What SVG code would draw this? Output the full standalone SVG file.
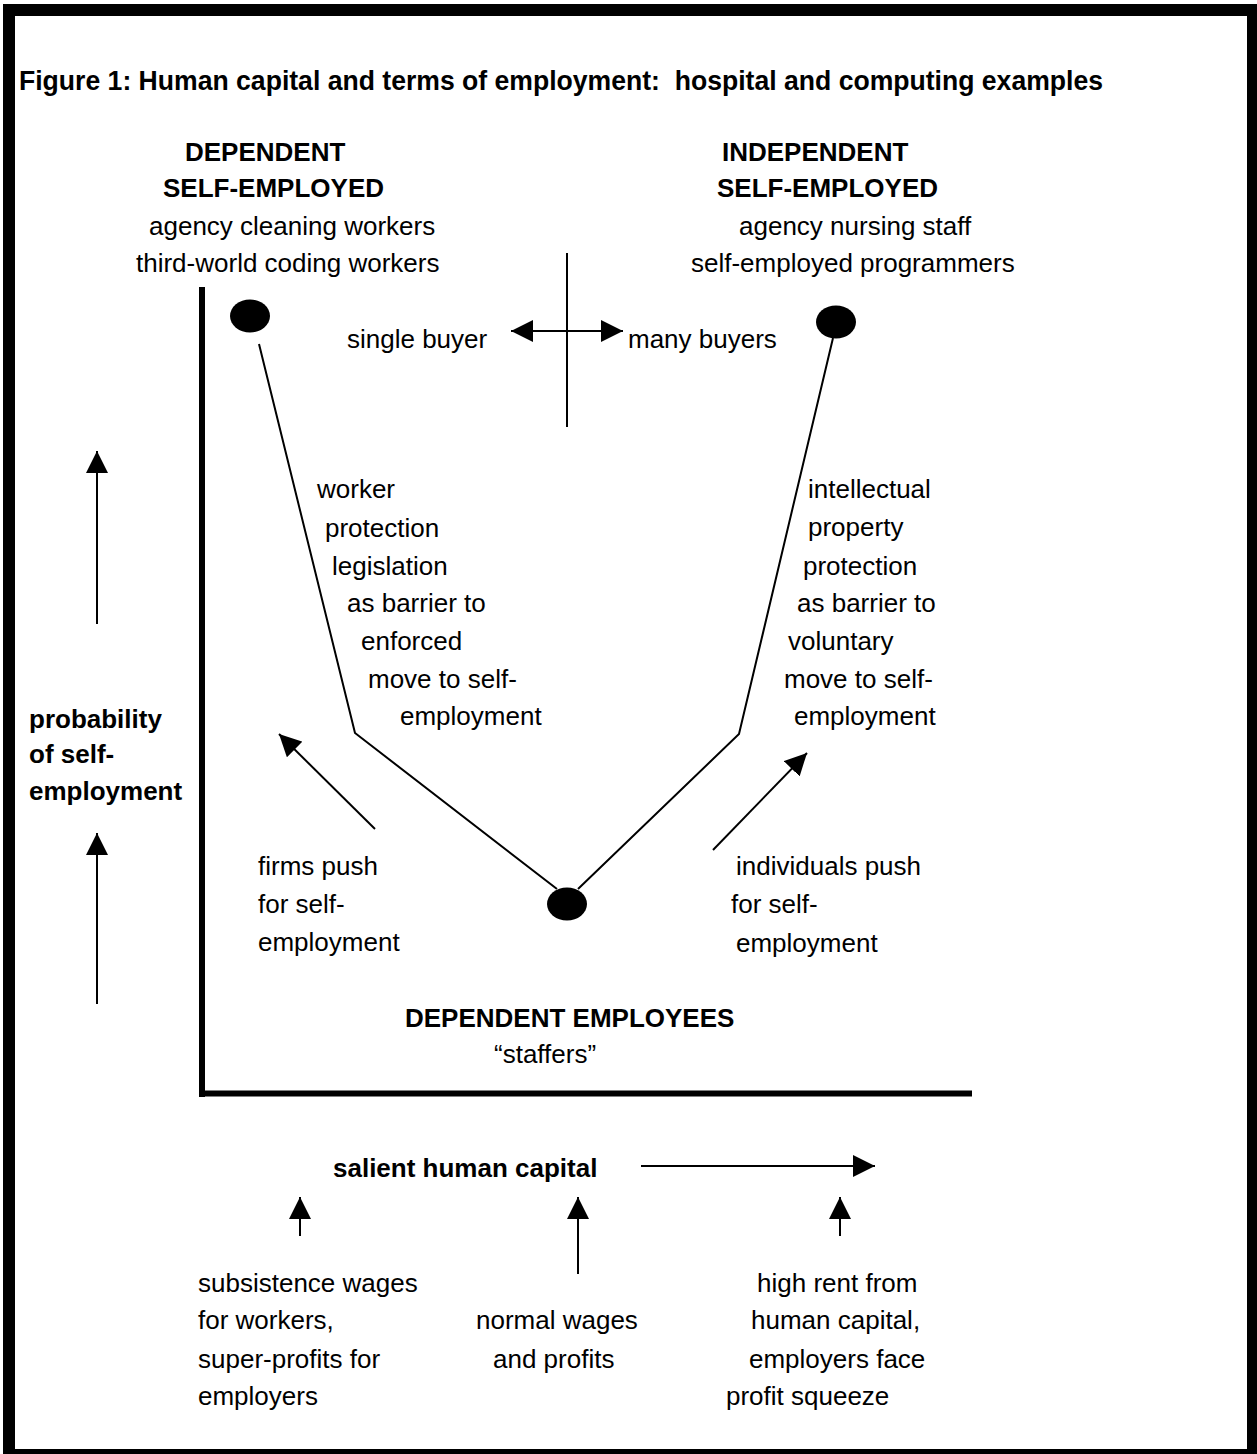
<svg xmlns="http://www.w3.org/2000/svg" width="1257" height="1454" viewBox="0 0 1257 1454">
<defs>
<style>
text{font-family:"Liberation Sans",Arial,sans-serif;font-size:26px;fill:#000}
.b{font-weight:bold}
.thin{stroke:#000;stroke-width:2;fill:none}
.axis{stroke:#000;stroke-width:6;fill:none}
.dot{fill:#000}
</style>
<marker id="ah" markerUnits="userSpaceOnUse" markerWidth="22" markerHeight="22" viewBox="0 0 20 20" refX="20" refY="10" orient="auto-start-reverse">
<path d="M0,0 L20,10 L0,20 Z" fill="#000"/>
</marker>
</defs>
<rect x="0" y="0" width="1257" height="1454" fill="#fff"/>
<rect id="frame" x="9" y="10" width="1244" height="1445" fill="none" stroke="#000" stroke-width="12"/>
<g id="title"><text class="b" x="19" y="90" xml:space="preserve" style="font-size:27px" textLength="1084" lengthAdjust="spacingAndGlyphs">Figure 1: Human capital and terms of employment:  hospital and computing examples</text></g>

<g id="axes">
<path class="axis" d="M202,287 V1097"/>
<path class="axis" d="M199,1093.5 H972"/>
</g>

<g id="node-dependent-self-employed">
<ellipse class="dot" cx="250" cy="316" rx="20" ry="16.5"/>
<text class="b" x="185" y="161">DEPENDENT</text>
<text class="b" x="163" y="197">SELF-EMPLOYED</text>
<text x="149" y="235">agency cleaning workers</text>
<text x="136" y="272">third-world coding workers</text>
</g>

<g id="node-independent-self-employed">
<ellipse class="dot" cx="836" cy="322" rx="20" ry="16.5"/>
<text class="b" x="722" y="161">INDEPENDENT</text>
<text class="b" x="717" y="197">SELF-EMPLOYED</text>
<text x="739" y="235">agency nursing staff</text>
<text x="691" y="272">self-employed programmers</text>
</g>

<g id="node-dependent-employees">
<ellipse class="dot" cx="567" cy="904" rx="20" ry="16.5"/>
<text class="b" x="405" y="1027">DEPENDENT EMPLOYEES</text>
<text x="494" y="1063">“staffers”</text>
</g>

<g id="buyers">
<path class="thin" d="M567,253 V427"/>
<path class="thin" d="M511,331 H623" marker-start="url(#ah)" marker-end="url(#ah)"/>
<text x="347" y="348">single buyer</text>
<text x="628" y="348">many buyers</text>
</g>

<g id="connectors">
<path class="thin" d="M259,344 L355,733 L557,889"/>
<path class="thin" d="M833,338 L739,734 L578,889"/>
<path class="thin" d="M375,829 L279,734" marker-end="url(#ah)"/>
<path class="thin" d="M713,850 L807,753" marker-end="url(#ah)"/>
<path class="thin" d="M97,624 V451" marker-end="url(#ah)"/>
<path class="thin" d="M97,1004 V833" marker-end="url(#ah)"/>
<path class="thin" d="M641,1166 H875" marker-end="url(#ah)"/>
<path class="thin" d="M300,1236 V1197" marker-end="url(#ah)"/>
<path class="thin" d="M578,1274 V1197" marker-end="url(#ah)"/>
<path class="thin" d="M840,1236 V1197" marker-end="url(#ah)"/>
</g>

<g id="label-worker-protection">
<text x="317" y="498">worker</text>
<text x="325" y="537">protection</text>
<text x="332" y="575">legislation</text>
<text x="347" y="612">as barrier to</text>
<text x="361" y="650">enforced</text>
<text x="368" y="688">move to self-</text>
<text x="400" y="725">employment</text>
</g>

<g id="label-ip-protection">
<text x="808" y="498">intellectual</text>
<text x="808" y="536">property</text>
<text x="803" y="575">protection</text>
<text x="797" y="612">as barrier to</text>
<text x="788" y="650">voluntary</text>
<text x="784" y="688">move to self-</text>
<text x="794" y="725">employment</text>
</g>

<g id="label-firms-push">
<text x="258" y="875">firms push</text>
<text x="258" y="913">for self-</text>
<text x="258" y="951">employment</text>
</g>

<g id="label-individuals-push">
<text x="736" y="875">individuals push</text>
<text x="731" y="913">for self-</text>
<text x="736" y="952">employment</text>
</g>

<g id="label-probability">
<text class="b" x="29" y="728">probability</text>
<text class="b" x="29" y="763">of self-</text>
<text class="b" x="29" y="800">employment</text>
</g>

<g id="label-salient">
<text class="b" x="333" y="1177">salient human capital</text>
</g>

<g id="label-subsistence">
<text x="198" y="1292">subsistence wages</text>
<text x="198" y="1329">for workers,</text>
<text x="198" y="1368">super-profits for</text>
<text x="198" y="1405">employers</text>
</g>

<g id="label-normal">
<text x="476" y="1329">normal wages</text>
<text x="493" y="1368">and profits</text>
</g>

<g id="label-high-rent">
<text x="757" y="1292">high rent from</text>
<text x="751" y="1329">human capital,</text>
<text x="749" y="1368">employers face</text>
<text x="726" y="1405">profit squeeze</text>
</g>
</svg>
